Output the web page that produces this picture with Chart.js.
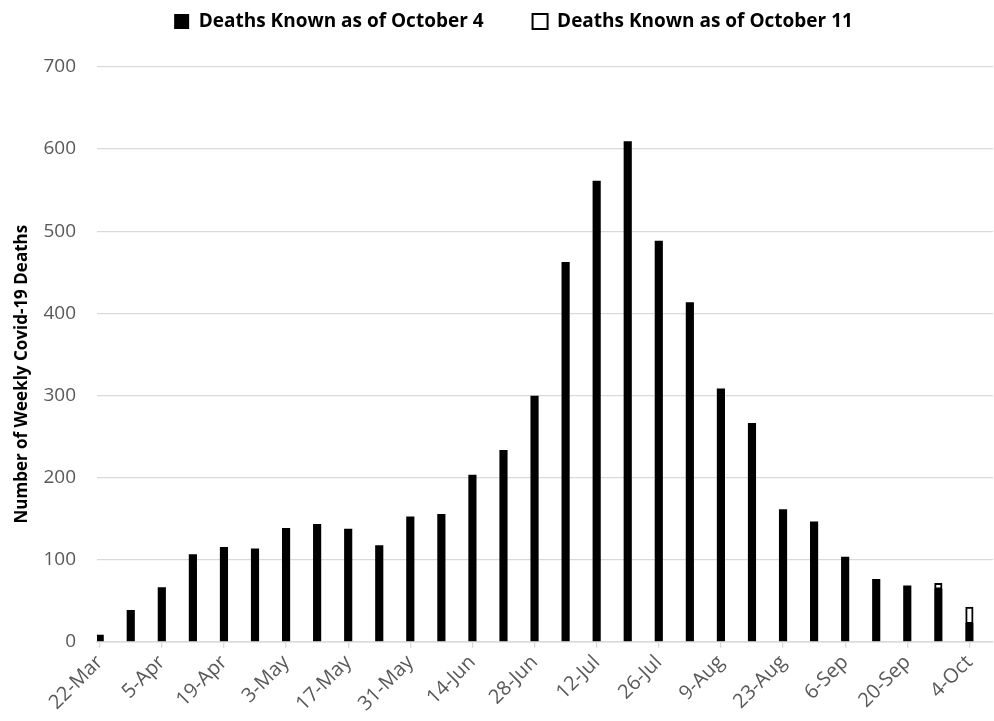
<!DOCTYPE html>
<html>
<head>
<meta charset="utf-8">
<script src="https://cdn.jsdelivr.net/npm/chart.js@4.4.1/dist/chart.umd.min.js"></script>
<style>
  html, body { margin: 0; padding: 0; background: #ffffff; }
  #wrap { width: 994px; height: 721px; position: relative; }
</style>
</head>
<body>
<div id="wrap"><canvas id="c"></canvas></div>
<script>
const weeks = ['22-Mar','29-Mar','5-Apr','12-Apr','19-Apr','26-Apr','3-May','10-May','17-May','24-May',
  '31-May','7-Jun','14-Jun','21-Jun','28-Jun','5-Jul','12-Jul','19-Jul','26-Jul','2-Aug',
  '9-Aug','16-Aug','23-Aug','30-Aug','6-Sep','13-Sep','20-Sep','27-Sep','4-Oct'];
const deathsKnownOct4 = [8, 38, 66, 106, 115, 113, 138, 143, 137, 117,
  152, 155, 203, 233, 299, 462, 561, 609, 488, 413,
  308, 266, 161, 146, 103, 76, 68, 64, 22];
const addedByOct11 = [0, 0, 0, 0, 0, 0, 0, 0, 0, 0,
  0, 0, 0, 0, 0, 0, 0, 0, 0, 0,
  0, 0, 0, 0, 0, 0, 0, 7, 20];
const seriesNames = ['Deaths Known as of October 4', 'Deaths Known as of October 11'];
const yAxisTitle = 'Number of Weekly Covid-19 Deaths';

const FONT = "'Open Sans', 'Noto Sans', sans-serif";

// Legend: wide gap between the two items but compact height, shifted slightly right
const legendTweak = {
  id: 'legendTweak',
  afterInit(chart) {
    const lg = chart.legend;
    if (!lg) return;
    const fit = lg.fit;
    lg.fit = function () { fit.call(this); this.height = 104; };
    const draw = lg.draw;
    lg.draw = function () {
      const dx = 17;
      this.left += dx; this.right += dx;
      draw.apply(this, arguments);
      this.left -= dx; this.right -= dx;
    };
  }
};

new Chart(document.getElementById('c'), {
  type: 'bar',
  data: {
    datasets: [
      {
        label: seriesNames[0],
        data: deathsKnownOct4.map((v, i) => ({ x: i, y: v })),
        backgroundColor: '#000000',
        borderColor: '#000000',
        borderWidth: 0,
        barThickness: 7.5
      },
      {
        label: seriesNames[1],
        data: addedByOct11.map((v, i) => ({ x: i, y: v })),
        backgroundColor: '#ffffff',
        borderColor: '#000000',
        borderWidth: 2,
        borderSkipped: false,
        barThickness: 7.5
      }
    ]
  },
  options: {
    responsive: true,
    maintainAspectRatio: false,
    animation: false,
    layout: { padding: { top: -37, left: 0, right: 1, bottom: 2 } },
    plugins: {
      legend: {
        position: 'top',
        labels: {
          boxWidth: 15,
          boxHeight: 15,
          padding: 49,
          color: '#000000',
          font: { family: FONT, size: 19, weight: 'bold' }
        }
      },
      tooltip: { enabled: false }
    },
    scales: {
      x: {
        type: 'linear',
        stacked: true,
        offset: false,
        min: -0.087,
        max: 28.76,
        afterFit: (scale) => { scale.paddingLeft = 0; scale.paddingRight = 0; },
        grid: { offset: false, drawOnChartArea: false, drawTicks: true, tickLength: 6, color: '#d9d9d9', lineWidth: 1.3 },
        border: { display: true, color: '#d9d9d9', width: 1.5 },
        ticks: {
          stepSize: 2,
          includeBounds: false,
          autoSkip: false,
          maxRotation: 45,
          minRotation: 45,
          padding: 3,
          color: '#595959',
          font: { family: FONT, size: 20 },
          callback: (v) => (Number.isInteger(v) && weeks[v] !== undefined) ? weeks[v] : ''
        }
      },
      y: {
        stacked: true,
        min: 0,
        max: 700,
        afterFit: (scale) => { scale.width = 97; },
        grid: { drawTicks: false, color: '#d9d9d9', lineWidth: 1.3 },
        border: { display: false },
        ticks: {
          stepSize: 100,
          padding: 21,
          color: '#595959',
          font: { family: FONT, size: 19 }
        },
        title: {
          display: true,
          text: yAxisTitle + '         ',
          color: '#000000',
          padding: { top: 12, bottom: 9 },
          font: { family: FONT, size: 17, weight: 'bold' }
        }
      }
    }
  },
  plugins: [legendTweak]
});
</script>
</body>
</html>
